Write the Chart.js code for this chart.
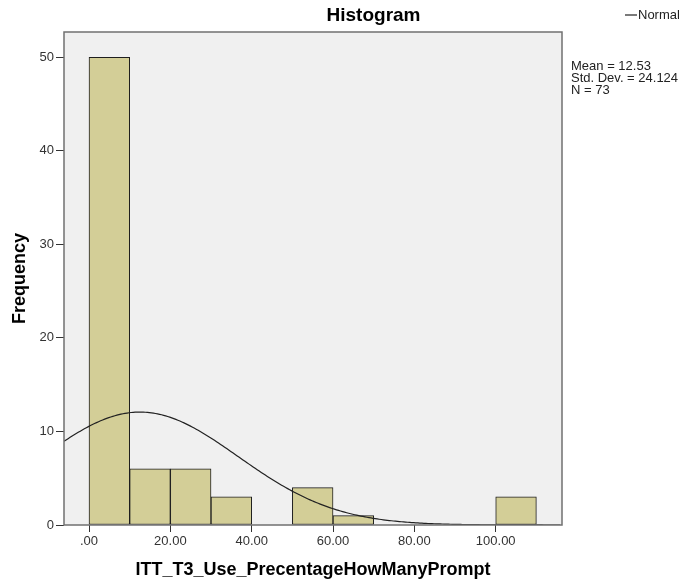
<!DOCTYPE html>
<html>
<head>
<meta charset="utf-8">
<title>Histogram</title>
<script src="https://cdn.jsdelivr.net/npm/chart.js@4.4.1/dist/chart.umd.min.js"></script>
<style>
    html, body { margin: 0; padding: 0; background: #fff; }
    #wrap { width: 683px; height: 584px; }
</style>
</head>
<body>
<div id="wrap"><canvas id="histChart"></canvas></div>
<script>
// Histogram bins (lower edges) and counts, 10-unit bins
const binStarts = [0, 10, 20, 30, 50, 60, 100];
const frequencies = [50, 6, 6, 3, 4, 1, 3];
const binWidth = 10;

// Summary statistics shown beside the plot
const mean = 12.53;
const stdDev = 24.124;
const count = 73;

// Axis ticks
const xTicks = [0, 20, 40, 60, 80, 100];
const xTickLabels = ['.00', '20.00', '40.00', '60.00', '80.00', '100.00'];
const yTicks = [0, 10, 20, 30, 40, 50];

const xMin = -6.15, xMax = 116.3;
const yMax = 52.7;

const FONT = '"Liberation Sans", Arial, sans-serif';

// Bars sit at bin centres on a linear axis
const barData = binStarts.map((s, i) => ({ x: s + binWidth / 2, y: frequencies[i] }));

// Normal curve scaled to counts per bin, from the stated mean / sd / N
const curveData = [];
for (let x = xMin; x <= xMax; x += 0.5) {
    const z = (x - mean) / stdDev;
    const y = count * binWidth * Math.exp(-0.5 * z * z) / (stdDev * Math.sqrt(2 * Math.PI));
    curveData.push({ x: x, y: y });
}

// Grey plot background, frame, title, legend and stats text
const plotFrame = {
    id: 'plotFrame',
    beforeDatasetsDraw(chart) {
        const { ctx, chartArea: a } = chart;
        ctx.save();
        ctx.fillStyle = '#f0f0f0';
        ctx.fillRect(a.left, a.top, a.right - a.left, a.bottom - a.top);
        ctx.restore();
    },
    afterDraw(chart) {
        const { ctx, chartArea: a, width } = chart;
        ctx.save();
        ctx.strokeStyle = '#707070';
        ctx.lineWidth = 1.5;
        ctx.strokeRect(a.left, a.top, a.right - a.left, a.bottom - a.top);

        // title, centred between plot left and page edge
        ctx.fillStyle = '#000';
        ctx.font = 'bold 19px ' + FONT;
        ctx.textAlign = 'center';
        ctx.textBaseline = 'middle';
        ctx.fillText('Histogram', (a.left + width) / 2, 16);

        // legend for the curve
        const lx = a.right + 63;
        ctx.strokeStyle = '#222';
        ctx.lineWidth = 1.2;
        ctx.beginPath();
        ctx.moveTo(lx, 15);
        ctx.lineTo(lx + 12, 15);
        ctx.stroke();
        ctx.fillStyle = '#222';
        ctx.font = '13px ' + FONT;
        ctx.textAlign = 'left';
        ctx.fillText('Normal', lx + 13, 15);

        // stats block
        const sx = a.right + 9;
        ctx.fillText('Mean = ' + mean, sx, 66);
        ctx.fillText('Std. Dev. = ' + stdDev, sx, 78);
        ctx.fillText('N = ' + count, sx, 90);
        ctx.restore();
    }
};

new Chart(document.getElementById('histChart'), {
    type: 'bar',
    data: {
        datasets: [
            {
                type: 'line',
                label: 'Normal',
                data: curveData,
                borderColor: '#222',
                borderWidth: 1.2,
                pointRadius: 0,
                tension: 0,
                order: 0
            },
            {
                label: 'Frequency',
                data: barData,
                backgroundColor: '#d3ce97',
                borderColor: '#1e1e1e',
                borderWidth: 1,
                borderSkipped: false,
                barPercentage: 1,
                categoryPercentage: 1,
                grouped: false,
                order: 1
            }
        ]
    },
    options: {
        responsive: true,
        maintainAspectRatio: false,
        animation: false,
        layout: { padding: { left: 0, right: 121, top: 32, bottom: 0 } },
        plugins: {
            legend: { display: false },
            tooltip: { enabled: false },
            title: { display: false }
        },
        scales: {
            x: {
                type: 'linear',
                min: xMin,
                max: xMax,
                offset: false,
                afterFit(scale) { scale.height = 59; },
                afterBuildTicks(scale) { scale.ticks = xTicks.map(v => ({ value: v })); },
                ticks: {
                    color: '#333',
                    font: { family: FONT, size: 13 },
                    padding: 2,
                    maxRotation: 0,
                    callback: (v) => xTickLabels[xTicks.indexOf(v)]
                },
                grid: { offset: false, drawOnChartArea: false, drawTicks: true, tickLength: 7, color: '#333' },
                border: { display: false },
                title: {
                    display: true,
                    text: 'ITT_T3_Use_PrecentageHowManyPrompt',
                    color: '#000',
                    font: { family: FONT, size: 18, weight: 'bold' },
                    padding: { top: 3, bottom: 3 }
                }
            },
            y: {
                min: 0,
                max: yMax,
                afterFit(scale) { scale.width = 64; },
                afterBuildTicks(scale) { scale.ticks = yTicks.map(v => ({ value: v })); },
                ticks: {
                    color: '#333',
                    font: { family: FONT, size: 13 },
                    padding: 2
                },
                grid: { drawOnChartArea: false, drawTicks: true, tickLength: 8, color: '#333' },
                border: { display: false },
                title: {
                    display: true,
                    text: 'Frequency',
                    color: '#000',
                    font: { family: FONT, size: 18, weight: 'bold' },
                    padding: { top: 9, bottom: 9 }
                }
            }
        }
    },
    plugins: [plotFrame]
});
</script>
</body>
</html>
